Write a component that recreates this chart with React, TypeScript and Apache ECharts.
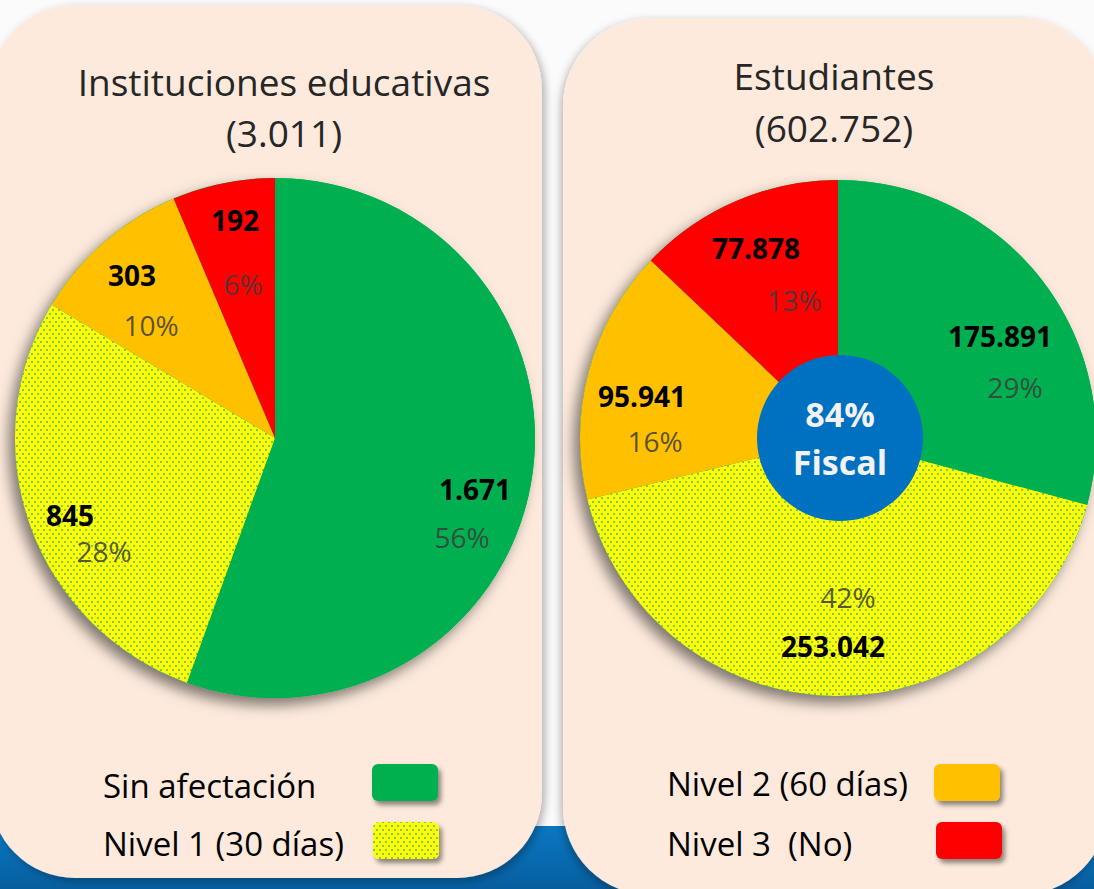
import React, { useEffect, useRef } from 'react';
import * as echarts from 'echarts';

const CATEGORIES = ['Sin afectación', 'Nivel 1 (30 días)', 'Nivel 2 (60 días)', 'Nivel 3  (No)'];
const INSTITUCIONES = [1671, 845, 303, 192];
const ESTUDIANTES = [175891, 253042, 95941, 77878];
const TOTAL_INSTITUCIONES = 3011;
const TOTAL_ESTUDIANTES = 602752;
const FISCAL_PCT = 84;
const FISCAL_LABEL = 'Fiscal';
const TITLE_LEFT = 'Instituciones educativas';
const TITLE_RIGHT = 'Estudiantes';

const FONT = '"Open Sans", "Noto Sans", sans-serif';
const GREEN = '#00b050';
const ORANGE = '#ffc000';
const RED = '#ff0000';
const DOT_SVG =
  'data:image/svg+xml;charset=utf-8,' +
  encodeURIComponent(
    '<svg xmlns="http://www.w3.org/2000/svg" width="6" height="8"><rect width="6" height="8" fill="#ffff00"/><rect x="1" y="1" width="2" height="2" fill="#7acb52"/><rect x="4" y="5" width="2" height="2" fill="#7acb52"/></svg>'
  );
const YELLOW: any = { image: DOT_SVG, repeat: 'repeat', imageWidth: 6, imageHeight: 8 };
const COLORS: any[] = [GREEN, YELLOW, ORANGE, RED];

// label anchor positions (layout only)
const L_NUM_POS = [[475, 489], [70, 515], [132, 275], [235, 220]];
const L_PCT_POS = [[462, 537], [104, 551], [151, 325], [243, 284]];
const R_NUM_POS = [[1000, 336], [833, 646], [642, 396], [756, 248]];
const R_PCT_POS = [[1015, 387], [848, 597], [655, 441], [794, 300]];

const fmt = (n: number) => String(n).replace(/\B(?=(\d{3})+(?!\d))/g, '.');

const L_CENTER = [275, 438];
const L_R = 260;
const R_CENTER = [838, 438];
const R_R = 258;

function pieSeries(values: number[], center: number[], r: number, numPos: number[][], pctPos: number[][]) {
  const data = values.map((v, i) => ({ value: v, name: CATEGORIES[i], itemStyle: { color: COLORS[i] } }));
  const base = {
    type: 'pie',
    center,
    radius: r,
    startAngle: 90,
    clockwise: true,
    silent: true,
    percentPrecision: 0,
    labelLine: { show: false },
    emphasis: { disabled: true },
  };
  return [
    {
      ...base,
      z: 2,
      data,
      label: {
        show: true,
        position: 'inside',
        formatter: (p: any) => fmt(p.value),
        fontFamily: FONT,
        fontSize: 28,
        fontWeight: 'bold',
        color: '#000',
      },
      labelLayout: (p: any) => ({
        x: numPos[p.dataIndex][0],
        y: numPos[p.dataIndex][1],
        align: 'center',
        verticalAlign: 'middle',
      }),
    },
    {
      ...base,
      z: 3,
      data: values.map((v, i) => ({ value: v, name: CATEGORIES[i] })),
      itemStyle: { color: 'rgba(0,0,0,0)' },
      label: {
        show: true,
        position: 'inside',
        formatter: '{d}%',
        fontFamily: FONT,
        fontSize: 28,
        color: 'rgba(60,60,60,0.85)',
      },
      labelLayout: (p: any) => ({
        x: pctPos[p.dataIndex][0],
        y: pctPos[p.dataIndex][1],
        align: 'center',
        verticalAlign: 'middle',
      }),
    },
  ];
}

const legendItem = (label: string, color: any, tx: number, ty: number, bx: number, by: number) => [
  {
    type: 'text',
    x: tx,
    y: ty,
    style: { text: label, font: `33px ${FONT}`, fill: '#000', textAlign: 'left', textVerticalAlign: 'middle' },
    z: 10,
  },
  {
    type: 'rect',
    shape: { x: bx, y: by, width: 66, height: 37, r: 6 },
    style: {
      fill: color,
      shadowBlur: 5,
      shadowOffsetX: 3,
      shadowOffsetY: 4,
      shadowColor: 'rgba(0,0,0,0.45)',
    },
    z: 10,
  },
];

export default function App() {
  const ref = useRef<HTMLDivElement>(null);
  useEffect(() => {
    if (!ref.current) return;
    const chart = echarts.init(ref.current, null, { renderer: 'svg' });
    const option: any = {
      animation: false,
      backgroundColor: '#fbfbfb',
      graphic: [
        {
          type: 'rect',
          shape: { x: 0, y: 826, width: 1094, height: 63 },
          style: {
            fill: new echarts.graphic.LinearGradient(0, 0, 0, 1, [
              { offset: 0, color: '#0a78c2' },
              { offset: 1, color: '#075e9f' },
            ]),
          },
          z: -20,
        },
        {
          type: 'rect',
          shape: { x: -10, y: 5, width: 552, height: 873, r: 85 },
          style: {
            fill: '#fdeadc',
            shadowBlur: 8,
            shadowOffsetX: 3,
            shadowOffsetY: 3,
            shadowColor: 'rgba(0,0,0,0.3)',
          },
          z: -10,
        },
        {
          type: 'rect',
          shape: { x: 563, y: 18, width: 545, height: 877, r: 88 },
          style: {
            fill: '#fdeadc',
            shadowBlur: 8,
            shadowOffsetX: -2,
            shadowOffsetY: 3,
            shadowColor: 'rgba(0,0,0,0.3)',
          },
          z: -10,
        },
        {
          type: 'text',
          x: 284,
          y: 107,
          style: {
            text: `${TITLE_LEFT}\n(${fmt(TOTAL_INSTITUCIONES)})`,
            font: `37px ${FONT}`,
            lineHeight: 51,
            fill: '#262626',
            textAlign: 'center',
            textVerticalAlign: 'middle',
          },
        },
        {
          type: 'text',
          x: 834,
          y: 101,
          style: {
            text: `${TITLE_RIGHT}\n(${fmt(TOTAL_ESTUDIANTES)})`,
            font: `37px ${FONT}`,
            lineHeight: 52,
            fill: '#262626',
            textAlign: 'center',
            textVerticalAlign: 'middle',
          },
        },
        {
          type: 'circle',
          shape: { cx: L_CENTER[0], cy: L_CENTER[1], r: L_R },
          style: { fill: GREEN, shadowBlur: 14, shadowOffsetX: -6, shadowOffsetY: 7, shadowColor: 'rgba(0,0,0,0.5)' },
          z: -5,
        },
        {
          type: 'circle',
          shape: { cx: R_CENTER[0], cy: R_CENTER[1], r: R_R },
          style: { fill: GREEN, shadowBlur: 14, shadowOffsetX: -6, shadowOffsetY: 7, shadowColor: 'rgba(0,0,0,0.5)' },
          z: -5,
        },
        ...legendItem(CATEGORIES[0], COLORS[0], 103, 785, 372, 764),
        ...legendItem(CATEGORIES[1], COLORS[1], 103, 843, 373, 822),
        ...legendItem(CATEGORIES[2], COLORS[2], 667, 783, 934, 764),
        ...legendItem(CATEGORIES[3], COLORS[3], 667, 843, 936, 822),
      ],
      series: [
        ...pieSeries(INSTITUCIONES, L_CENTER, L_R, L_NUM_POS, L_PCT_POS),
        ...pieSeries(ESTUDIANTES, R_CENTER, R_R, R_NUM_POS, R_PCT_POS),
        {
          type: 'pie',
          z: 4,
          center: [840, 438],
          radius: 83,
          silent: true,
          emphasis: { disabled: true },
          labelLine: { show: false },
          data: [{ value: FISCAL_PCT, name: FISCAL_LABEL, itemStyle: { color: '#0070c0' } }],
          label: {
            show: true,
            position: 'center',
            formatter: (p: any) => `{a|${p.value}%}\n{b|${p.name}}`,
            rich: {
              a: { fontFamily: FONT, fontSize: 34, fontWeight: 'bold', color: '#f2f2f2', lineHeight: 48 },
              b: { fontFamily: FONT, fontSize: 34, fontWeight: 'bold', color: '#f2f2f2', lineHeight: 48 },
            },
          },
        },
      ],
    };
    chart.setOption(option);
    return () => chart.dispose();
  }, []);
  return <div ref={ref} style={{ position: 'fixed', left: 0, top: 0, width: 1094, height: 889 }} />;
}
